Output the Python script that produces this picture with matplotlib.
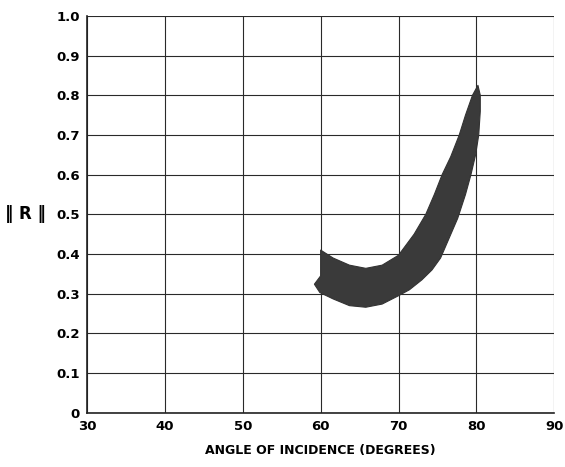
import numpy as np
import matplotlib
matplotlib.use("Agg")
import matplotlib.pyplot as plt

# inner (upper/left) boundary of the reflectance band, left end to the tip
inner_x = [60.0, 60.0, 61.6, 63.7, 65.8, 67.9, 70.0, 72.0, 73.5, 74.6, 75.6, 76.7, 77.8, 78.6, 79.5, 80.2]
inner_y = [0.345, 0.41, 0.39, 0.372, 0.364, 0.372, 0.397, 0.45, 0.50, 0.55, 0.60, 0.645, 0.70, 0.75, 0.80, 0.825]

# outer (lower/right) boundary, from the tip back to the left end
outer_x = [80.5, 80.5, 80.3, 79.9, 79.3, 78.6, 77.6, 76.5, 75.4, 74.3, 73.0, 71.4, 70.0, 67.9, 65.8, 63.7, 61.6, 59.9, 59.2]
outer_y = [0.80, 0.76, 0.70, 0.65, 0.60, 0.55, 0.49, 0.44, 0.39, 0.36, 0.335, 0.31, 0.295, 0.274, 0.266, 0.27, 0.287, 0.303, 0.324]

x_ticks = [30, 40, 50, 60, 70, 80, 90]
y_ticks = [0, 0.1, 0.2, 0.3, 0.4, 0.5, 0.6, 0.7, 0.8, 0.9, 1.0]
y_tick_labels = ["0", "0.1", "0.2", "0.3", "0.4", "0.5", "0.6", "0.7", "0.8", "0.9", "1.0"]

fig = plt.figure(figsize=(5.65, 4.67), dpi=100)
ax = fig.add_axes([0.154, 0.116, 0.827, 0.85])

band_x = np.concatenate([inner_x, outer_x])
band_y = np.concatenate([inner_y, outer_y])
ax.fill(band_x, band_y, color="#3a3a3a", lw=0.8, ec="#333333", joinstyle="round", zorder=2)

ax.set_xlim(30, 90)
ax.set_ylim(0, 1.0)
ax.set_xticks(x_ticks)
ax.set_yticks(y_ticks)
ax.set_yticklabels(y_tick_labels)
ax.grid(True, color="#2a2a2a", lw=0.8, zorder=1)
ax.set_axisbelow(True)

for side in ["top", "right"]:
    ax.spines[side].set_visible(False)
for side in ["left", "bottom"]:
    ax.spines[side].set_linewidth(1.2)
    ax.spines[side].set_color("#222222")

ax.tick_params(axis="both", length=0, labelsize=9.5, pad=5)
for lab in ax.get_xticklabels() + ax.get_yticklabels():
    lab.set_fontweight("bold")

ax.set_xlabel("ANGLE OF INCIDENCE (DEGREES)", fontsize=9, fontweight="bold", labelpad=8)
ax.set_ylabel("‖ R ‖", fontsize=12, fontweight="bold", rotation=0, ha="right", va="center")
ax.yaxis.set_label_coords(-0.088, 0.5)

fig.savefig("out.png", dpi=100, facecolor="white")
